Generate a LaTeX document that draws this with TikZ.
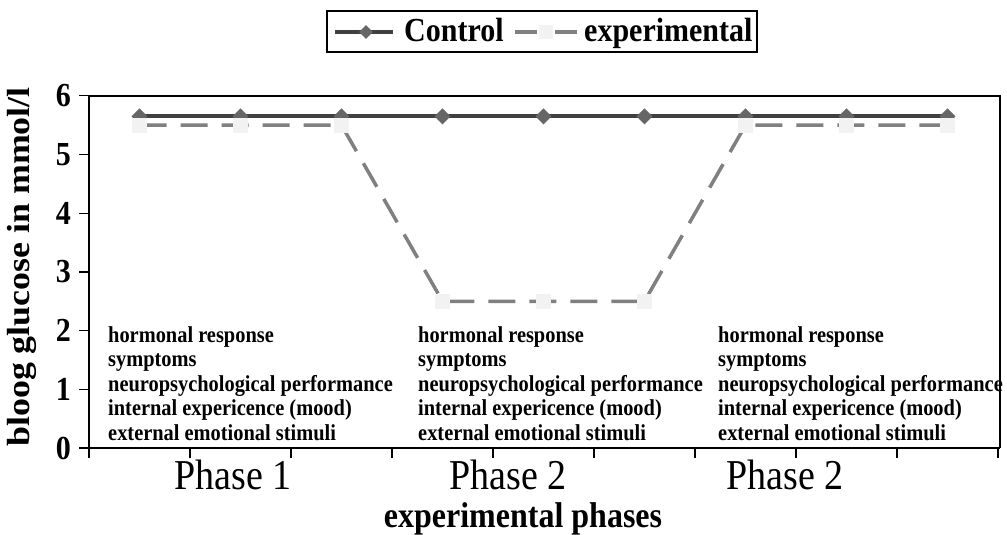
\documentclass[tikz,border=0pt]{standalone}
\usepackage{fontspec}
\setmainfont{Liberation Serif}
\usetikzlibrary{shapes.geometric}
\definecolor{ctrl}{HTML}{404040}
\definecolor{ctrlmark}{HTML}{666666}
\definecolor{expline}{HTML}{808080}
\definecolor{expmark}{HTML}{F2F2F2}
\newcommand{\tallt}[1]{\scalebox{1}[1.12]{#1}}
\begin{document}
\begin{tikzpicture}[x=1pt,y=-1pt,
  ctrlline/.style={draw=ctrl,line width=3.7pt},
  diam/.style={diamond,fill=ctrlmark,inner sep=0pt,minimum width=16pt,minimum height=16pt},
  expl/.style={draw=expline,line width=3.5pt,dash pattern=on 27pt off 14pt},
  sq/.style={rectangle,fill=expmark,inner sep=0pt,minimum size=15pt},
  anno/.style={inner sep=0pt,anchor=base west,font=\fontsize{20.4}{24}\selectfont\bfseries},
  ylab/.style={inner sep=0pt,anchor=east,font=\fontsize{30}{32}\selectfont\bfseries},
  phase/.style={inner sep=0pt,anchor=base,font=\fontsize{38}{40}\selectfont},
  axtitle/.style={inner sep=0pt,font=\fontsize{32}{34}\selectfont\bfseries},
  legtext/.style={inner sep=0pt,anchor=base west,font=\fontsize{30}{32}\selectfont\bfseries},
  axisline/.style={draw=black,line width=2pt},
  frameline/.style={draw=black,line width=1.5pt},
  tick/.style={draw=black,line width=1.2pt}]
\useasboundingbox (0,0) rectangle (1007,535);
\fill[white] (0,0) rectangle (1007,535);
% frame
\coordinate (tl) at (89,96);
\coordinate (tr) at (1000,96);
\coordinate (bl) at (89,448);
\coordinate (br) at (1000,448);
\draw[frameline] (tl) -- (tr) -- (br);
\draw[axisline] (tl) -- (bl) -- (br);
% y ticks and labels
\foreach \v in {0,...,6}{
  \coordinate (yt\v) at (89,448-58.7*\v);
  \coordinate (ytl\v) at (79,448-58.7*\v);
  \draw[tick] (ytl\v) -- (yt\v);
  \node[ylab] (yl\v) at (71,448-58.7*\v) {\tallt{\v}};
}
% x ticks
\foreach \i in {0,...,9}{
  \coordinate (xt\i) at (89+101*\i,448);
  \coordinate (xtb\i) at (89+101*\i,458);
  \draw[tick] (xt\i) -- (xtb\i);
}
% annotations
\foreach \bx/\b in {108/a,418/b,718/c}{
  \foreach \t [count=\k from 0] in {hormonal response,symptoms,neuropsychological performance,internal expericence (mood),external emotional stimuli}{
    \node[anno] (t\b\k) at (\bx,342+24.5*\k) {\tallt{\t}};
  }
}
% data coordinates
\foreach \i/\cv/\ev in {1/5.65/5.5,2/5.65/5.5,3/5.65/5.5,4/5.65/2.5,5/5.65/2.5,6/5.65/2.5,7/5.65/5.5,8/5.65/5.5,9/5.65/5.5}{
  \coordinate (c\i) at (38.5+101*\i,448-58.7*\cv);
  \coordinate (e\i) at (38.5+101*\i,448-58.7*\ev);
}
\draw[ctrlline] (c1) -- (c2) -- (c3) -- (c4) -- (c5) -- (c6) -- (c7) -- (c8) -- (c9);
\foreach \i in {1,...,9}{ \node[diam] (cm\i) at (c\i) {}; }
\draw[expl] (e1) -- (e2) -- (e3) -- (e4) -- (e5) -- (e6) -- (e7) -- (e8) -- (e9);
\foreach \i in {1,...,9}{ \node[sq] (em\i) at (e\i) {}; }
% axis labels
\node[phase] (p1) at (233,489) {\tallt{Phase 1}};
\node[phase] (p2) at (508,489) {\tallt{Phase 2}};
\node[phase] (p3) at (785,489) {\tallt{Phase 2}};
\node[axtitle,anchor=base] (xtitle) at (523,527) {\tallt{experimental phases}};
\node[axtitle,rotate=90] (ytitle) at (22,267) {\scalebox{1.12}[1]{bloog glucose in mmol/l}};
% legend
\node[draw=black,line width=1.5pt,minimum width=430pt,minimum height=41pt,inner sep=0pt] (legend) at (542,31.5) {};
\coordinate (l1a) at (335,32);
\coordinate (l1b) at (393,32);
\draw[ctrlline] (l1a) -- (l1b);
\node[diam,minimum width=14pt,minimum height=14pt] (lm1) at (366,32) {};
\node[legtext] (lt1) at (404,42) {\tallt{Control}};
\coordinate (l2a) at (515,32);
\coordinate (l2b) at (537,32);
\coordinate (l2c) at (555,32);
\coordinate (l2d) at (577,32);
\draw[expline,line width=3.5pt] (l2a) -- (l2b);
\draw[expline,line width=3.5pt] (l2c) -- (l2d);
\node[sq,minimum size=14pt] (lm2) at (546,32) {};
\node[legtext] (lt2) at (584,42) {\tallt{experimental}};
\end{tikzpicture}
\end{document}
